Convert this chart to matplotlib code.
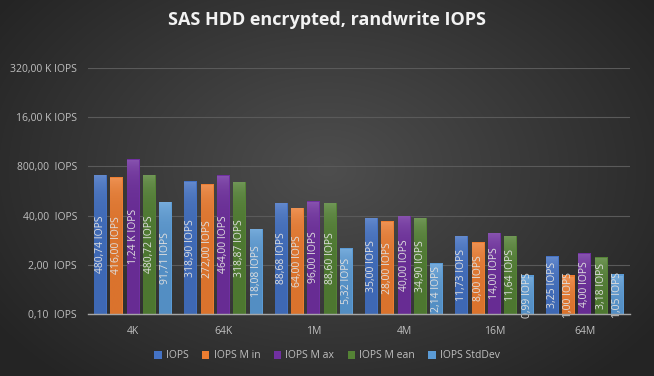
import numpy as np
import matplotlib
matplotlib.use("Agg")
import matplotlib.pyplot as plt
from matplotlib.ticker import FixedLocator, NullLocator
from matplotlib.colors import to_rgb

categories = ["4K", "64K", "1M", "4M", "16M", "64M"]
series_names = ["IOPS", "IOPS M in", "IOPS M ax", "IOPS M ean", "IOPS StdDev"]
iops = [480.74, 318.90, 88.68, 35.00, 11.73, 3.25]
iops_min = [416.00, 272.00, 64.00, 28.00, 8.00, 1.00]
iops_max = [1240.00, 464.00, 96.00, 40.00, 14.00, 4.00]
iops_mean = [480.72, 318.87, 88.60, 34.90, 11.64, 3.18]
iops_std = [91.71, 18.08, 5.32, 2.14, 0.99, 1.05]
tick_values = [0.1, 2, 40, 800, 16000, 320000]
tick_labels = ["0,10  IOPS", "2,00  IOPS", "40,00  IOPS", "800,00  IOPS",
               "16,00 K IOPS", "320,00 K IOPS"]
colors = ["#4472C4", "#ED7D31", "#7030A0", "#548235", "#5B9BD5"]
title = "SAS HDD encrypted, randwrite IOPS"

series = [iops, iops_min, iops_max, iops_mean, iops_std]

W, H = 654, 376
fig = plt.figure(figsize=(W / 100, H / 100), dpi=100)

# radial background gradient
bg = fig.add_axes([0, 0, 1, 1])
yy, xx = np.mgrid[0:H, 0:W]
r = np.sqrt(((xx - W / 2) / (W * 0.62)) ** 2 + ((yy - H * 0.45) / (H * 0.75)) ** 2)
r = np.clip(r, 0, 1)
c0 = np.array([0x4e, 0x4e, 0x4e]) / 255
c1 = np.array([0x24, 0x24, 0x24]) / 255
img = c0[None, None, :] * (1 - r[..., None]) + c1[None, None, :] * r[..., None]
bg.imshow(img, aspect="auto", extent=[0, 1, 0, 1])
bg.set_axis_off()

ax = fig.add_axes([88 / W, 1 - 314 / H, (630 - 88) / W, (314 - 68) / H])
ax.patch.set_alpha(0)
ax.set_yscale("log")
ax.set_ylim(0.1, 320000)
ax.set_xlim(-0.5, len(categories) - 0.5)

pitch = 0.181
width = 0.143
x = np.arange(len(categories))
txtcol = "#dedede"


def fmt(v):
    if v >= 1000:
        return ("%.2f" % (v / 1000)).replace(".", ",") + " K IOPS"
    return ("%.2f" % v).replace(".", ",") + " IOPS"


def grad(col):
    base = np.array(to_rgb(col))
    top = base + (1 - base) * 0.18
    bot = base * 0.92
    t = np.linspace(0, 1, 64)[:, None]
    g = top[None, :] * (1 - t) + bot[None, :] * t
    return g[:, None, :]


for i, (vals, col, name) in enumerate(zip(series, colors, series_names)):
    xs = x + (i - 2) * pitch
    bars = ax.bar(xs, vals, width=width, bottom=0.1, color=col, label=name, zorder=3)
    g = grad(col)
    for b, xi, v in zip(bars, xs, vals):
        im = ax.imshow(g, extent=[xi - width / 2, xi + width / 2, 0.1, v],
                       aspect="auto", zorder=3.1, interpolation="bilinear")
        im.set_clip_path(b)
        ax.text(xi, np.sqrt(0.1 * v), fmt(v), rotation=90, ha="center", va="center",
                color=txtcol, fontsize=7.5, zorder=4, family="Open Sans")

ax.set_xlim(-0.5, len(categories) - 0.5)
ax.set_ylim(0.1, 320000)
ax.set_aspect("auto")
ax.yaxis.set_major_locator(FixedLocator(tick_values))
ax.yaxis.set_minor_locator(NullLocator())
ax.set_yticklabels(tick_labels)
ax.set_xticks(x)
ax.set_xticklabels(categories)
ax.tick_params(axis="both", length=0, colors="#bfbfbf", labelsize=7.5)
ax.tick_params(axis="y", pad=8)
ax.tick_params(axis="x", pad=9)
for lab in ax.get_xticklabels() + ax.get_yticklabels():
    lab.set_family("Open Sans")
ax.grid(axis="y", color="#5a5a5a", linewidth=0.8, zorder=0)
for s in ["top", "right", "left"]:
    ax.spines[s].set_visible(False)
ax.spines["bottom"].set_color("#a6a6a6")
ax.spines["bottom"].set_linewidth(1.0)
ax.spines["bottom"].set_zorder(5)

fig.text(0.5, 1 - 20 / H, title, ha="center", va="center", color="#f2f2f2",
         fontsize=13, fontweight="bold", family="Open Sans")

leg = fig.legend(loc="center", bbox_to_anchor=(0.5, 1 - 356 / H), ncol=5, frameon=False,
                 handlelength=0.7, handleheight=0.7, handletextpad=0.4,
                 columnspacing=1.3, labelcolor="#bfbfbf", prop={"family": "Open Sans", "size": 7.5})

fig.savefig("out.png", dpi=100)
